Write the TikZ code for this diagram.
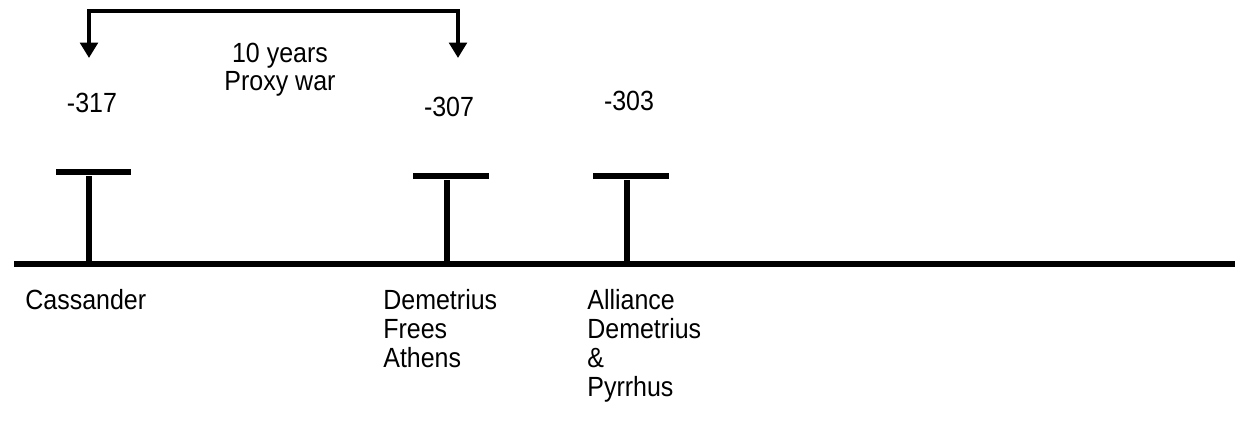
\documentclass[tikz,border=0pt]{standalone}
\usepackage{fontspec}
\setmainfont[FakeStretch=0.9]{Liberation Sans}
\usetikzlibrary{arrows.meta}
\begin{document}
\begin{tikzpicture}[x=0.02cm,y=-0.02cm,
    font=\fontsize{15.8}{16.6}\selectfont,
    axis/.style={line width=3pt},
    year/.style={anchor=base, inner sep=0pt},
    event/.style={anchor=base west, inner sep=0pt},
    span/.style={line width=2.5pt,
      {Triangle[length=8.8pt,width=10pt]}-{Triangle[length=8.8pt,width=10pt]}}]
  \useasboundingbox (0,0) rectangle (1235,436);
  % time axis
  \coordinate (L) at (14,264); \coordinate (R) at (1235,264);
  \draw[axis] (L) -- (R);
  % markers
  \coordinate (C0) at (89,264); \coordinate (C1) at (89,176);
  \coordinate (Cl) at (56,172); \coordinate (Cr) at (131,172);
  \draw[axis] (C0) -- (C1); \draw[axis] (Cl) -- (Cr);
  \coordinate (D0) at (447,264); \coordinate (D1) at (447,180);
  \coordinate (Dl) at (413,176); \coordinate (Dr) at (489,176);
  \draw[axis] (D0) -- (D1); \draw[axis] (Dl) -- (Dr);
  \coordinate (P0) at (627,264); \coordinate (P1) at (627,180);
  \coordinate (Pl) at (593,176); \coordinate (Pr) at (669,176);
  \draw[axis] (P0) -- (P1); \draw[axis] (Pl) -- (Pr);
  % years
  \node[year] (y317) at (92,112) {-317};
  \node[year] (y307) at (449,116) {-307};
  \node[year] (y303) at (629,110) {-303};
  % ten years bracket
  \coordinate (S0) at (89,58); \coordinate (S1) at (89,11);
  \coordinate (S2) at (458,11); \coordinate (S3) at (458,58);
  \draw[span] (S0) -- (S1) -- (S2) -- (S3);
  \node[year, font=\fontsize{15.8}{16.2}\selectfont] (war) at (280,62)
    {\begin{tabular}[t]{@{}c@{}}10 years\\Proxy war\end{tabular}};
  % events
  \node[event] (cass) at (25,309) {Cassander};
  \node[event] (frees) at (383,309)
    {\begin{tabular}[t]{@{}l@{}}Demetrius\\Frees\\Athens\end{tabular}};
  \node[event] (alli) at (587,309)
    {\begin{tabular}[t]{@{}l@{}}Alliance\\Demetrius\\\&\\Pyrrhus\end{tabular}};
\end{tikzpicture}
\end{document}
